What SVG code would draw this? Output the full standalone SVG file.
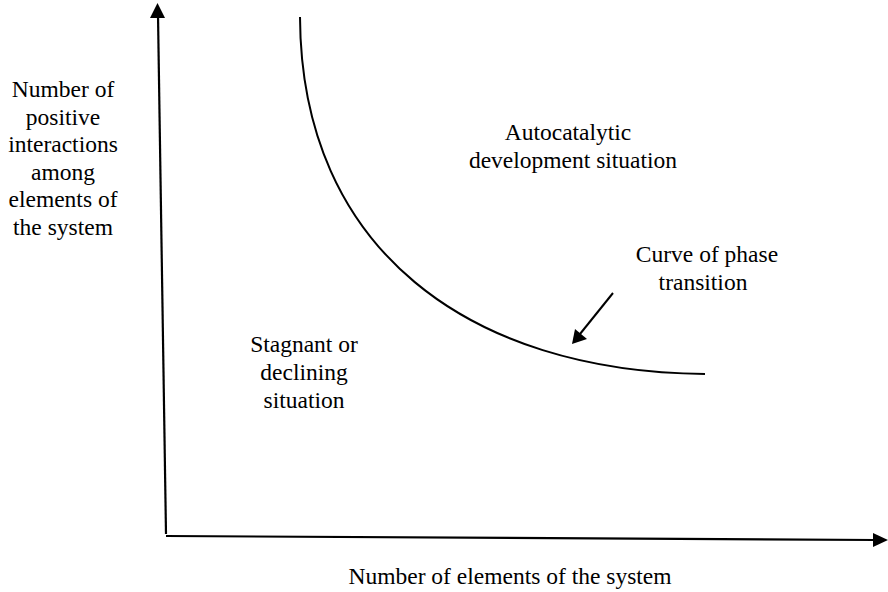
<svg xmlns="http://www.w3.org/2000/svg" width="888" height="592" viewBox="0 0 888 592">
  <style>
    .lbl { font-family: 'Liberation Serif', 'DejaVu Serif', serif; font-size: 23.5px; fill: #000; text-anchor: middle; }
    .ax { stroke: #000; stroke-width: 2.2; fill: none; }
    .crv { stroke: #000; stroke-width: 2; fill: none; }
    .head { fill: #000; }
  </style>
  <rect width="888" height="592" fill="#fff"/>

  <!-- axes -->
  <g id="axes">
    <line class="ax" x1="166" y1="534" x2="158" y2="15"/>
    <polygon class="head" points="157.5,3 150,18 165,18"/>
    <line class="ax" x1="166" y1="536" x2="876" y2="540"/>
    <polygon class="head" points="888,540 873,533 873,547"/>
  </g>

  <!-- phase transition curve and pointer -->
  <g id="connectors">
    <path class="crv" d="M300,17 C301,250 470,372 705,374"/>
    <line class="crv" x1="613" y1="293" x2="580" y2="334"/>
    <polygon class="head" points="572,344 575,329 587,339"/>
  </g>

  <g id="y-label">
    <text class="lbl" x="63" y="97">Number of</text>
    <text class="lbl" x="63" y="124.5">positive</text>
    <text class="lbl" x="63" y="152">interactions</text>
    <text class="lbl" x="63" y="179.5">among</text>
    <text class="lbl" x="63" y="207">elements of</text>
    <text class="lbl" x="63" y="234.5">the system</text>
  </g>

  <g id="autocatalytic">
    <text class="lbl" x="568" y="140">Autocatalytic</text>
    <text class="lbl" x="573" y="168">development situation</text>
  </g>

  <g id="curve-label">
    <text class="lbl" x="707" y="262">Curve of phase</text>
    <text class="lbl" x="703" y="290">transition</text>
  </g>

  <g id="stagnant">
    <text class="lbl" x="304" y="352">Stagnant or</text>
    <text class="lbl" x="304" y="380">declining</text>
    <text class="lbl" x="304" y="408">situation</text>
  </g>

  <g id="x-label">
    <text class="lbl" x="510" y="584">Number of elements of the system</text>
  </g>
</svg>
